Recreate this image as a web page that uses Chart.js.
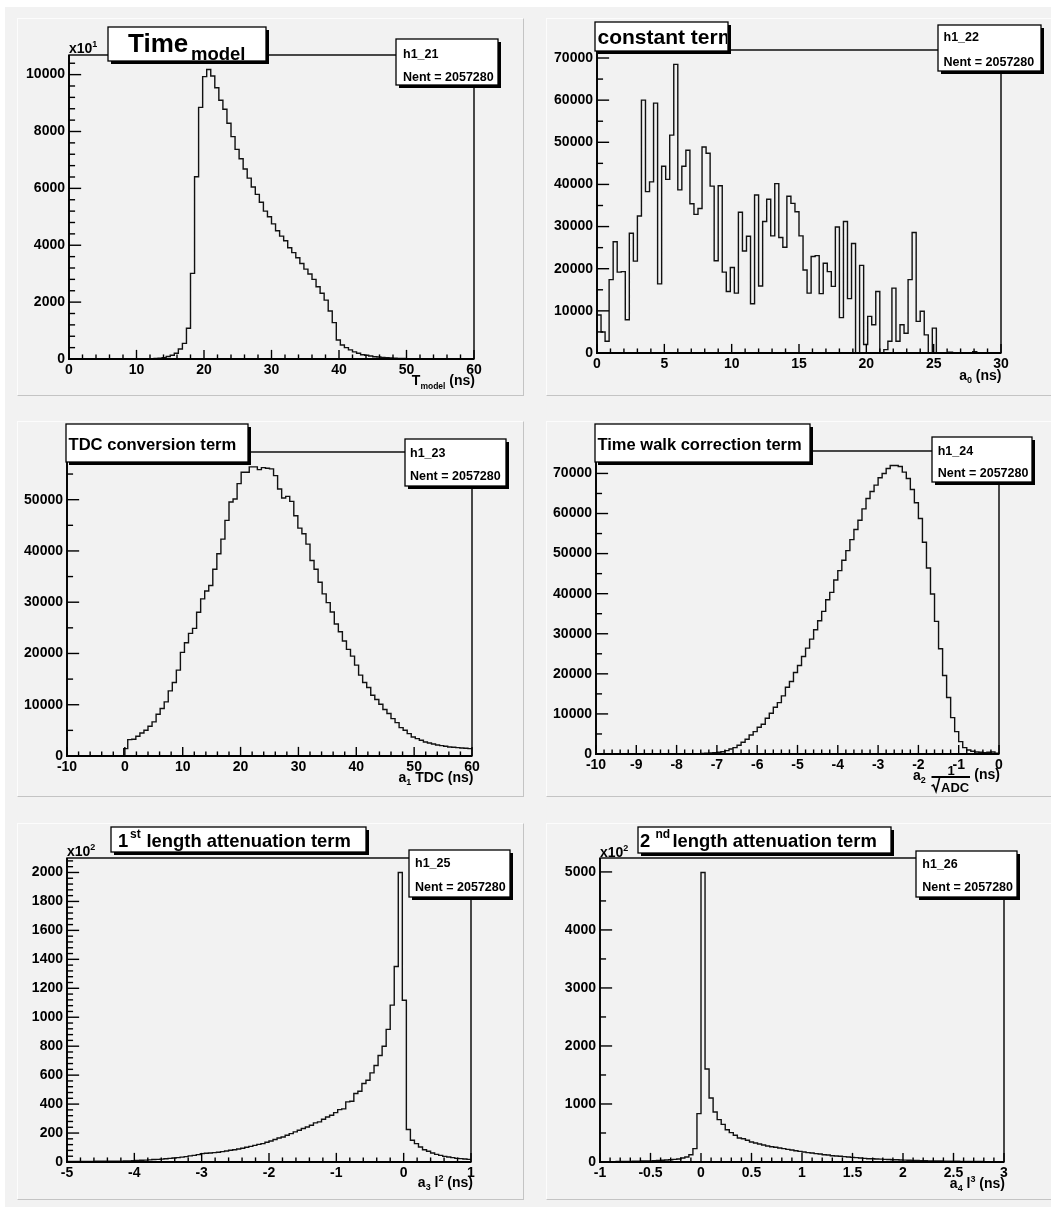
<!DOCTYPE html>
<html>
<head>
<meta charset="utf-8">
<title>Time model terms</title>
<script src="https://cdn.jsdelivr.net/npm/chart.js@4.4.1/dist/chart.umd.min.js"></script>
<style>
  html, body { margin: 0; padding: 0; background: #fff; }
  body { position: relative; width: 1051px; height: 1207px; overflow: hidden; }
  #bg { position: absolute; left: 5px; top: 7px; width: 1046px; height: 1200px; background: #f2f2f2; }
  .pad { position: absolute; box-sizing: border-box; background: #f2f2f2;
         border-top: 1px solid #fcfcfc; border-left: 1px solid #fcfcfc;
         border-right: 1px solid #c4c4c4; border-bottom: 1px solid #c4c4c4; }
  canvas { position: absolute; }
</style>
</head>
<body>
<div id="bg"></div>
<script>
const FONT = '"Liberation Sans", Arial, Helvetica, sans-serif';

// h1_21: T_model, 100 bins on [0, 60] ns (axis in units of 10 entries)
const tModelCounts = [
  0, 0, 0, 0, 0, 0, 0, 0, 0, 0,
  0, 0, 0, 0, 0, 0, 0, 0, 0, 3,
  8, 20, 30, 50, 90, 130, 200, 350, 550, 1080,
  3010, 6410, 8850, 9930, 10180, 9950, 9540, 9100, 8780, 8290,
  7820, 7370, 7040, 6680, 6360, 6050, 5790, 5510, 5200, 5000,
  4750, 4510, 4320, 4160, 3910, 3740, 3560, 3360, 3160, 2990,
  2800, 2540, 2310, 2070, 1690, 1280, 670, 490, 400, 320,
  250, 200, 150, 130, 105, 80, 70, 55, 45, 35,
  28, 22, 18, 14, 10, 8, 6, 5, 4, 3,
  3, 2, 2, 1, 1, 0, 0, 0, 0, 0
];
const tModelXTicks = [0, 10, 20, 30, 40, 50, 60];
const tModelYTicks = [0, 2000, 4000, 6000, 8000, 10000];

// h1_22: constant term a0, 100 bins on [0, 30] ns
const constCounts = [
  9000, 5000, 2800, 17400, 26400, 19200, 19300, 7900, 28400, 21800,
  32500, 60000, 38300, 40600, 59300, 16400, 44300, 41200, 51700, 68500,
  38700, 44300, 48100, 35400, 32900, 34300, 48900, 47400, 39600, 21900,
  39700, 19200, 14600, 20300, 14200, 33400, 24200, 27700, 11700, 37500,
  15900, 31200, 36500, 27800, 40200, 27400, 25100, 37200, 35500, 33500,
  27800, 19700, 14200, 22900, 23100, 14100, 21300, 19300, 15800, 29900,
  8400, 31200, 12900, 26000, 0, 20800, 2000, 8700, 6700, 14600,
  0, 800, 2800, 15400, 2800, 6700, 4700, 17400, 28600, 7500,
  9900, 4300, 0, 5900, 0, 0, 0, 200, 0, 0,
  0, 0, 0, 300, 0, 0, 0, 0, 0, 0
];
const constXTicks = [0, 5, 10, 15, 20, 25, 30];
const constYTicks = [0, 10000, 20000, 30000, 40000, 50000, 60000, 70000];

// h1_23: TDC conversion term a1*TDC, 100 bins on [-10, 60] ns
const tdcCounts = [
  0, 0, 0, 0, 0, 0, 0, 0, 0, 0,
  0, 0, 0, 0, 1430, 3190, 3260, 3850, 4500, 5020,
  5800, 6650, 8150, 9260, 10560, 12710, 14340, 16750, 20210, 22100,
  23920, 24900, 28030, 30640, 32200, 33250, 36440, 39440, 42310, 45960,
  49540, 50130, 53130, 55350, 55350, 56390, 56390, 55870, 56260, 56130,
  56000, 54690, 52090, 50330, 50650, 49670, 46870, 44460, 43350, 41330,
  38140, 36440, 33900, 31620, 29920, 28100, 25750, 24250, 22430, 20800,
  19490, 17730, 15780, 14340, 13360, 11860, 11020, 10100, 9060, 8280,
  7300, 6520, 5540, 5020, 4370, 3720, 3390, 3060, 2740, 2540,
  2350, 2150, 2020, 1890, 1760, 1700, 1630, 1560, 1500, 1430
];
const tdcXTicks = [-10, 0, 10, 20, 30, 40, 50, 60];
const tdcYTicks = [0, 10000, 20000, 30000, 40000, 50000];

// h1_24: time walk correction a2/sqrt(ADC), 100 bins on [-10, 0] ns
const walkCounts = [
  0, 0, 0, 0, 0, 0, 0, 0, 0, 0,
  0, 0, 0, 0, 0, 0, 0, 0, 0, 0,
  10, 20, 30, 50, 70, 100, 130, 170, 250, 330,
  420, 580, 830, 1250, 1580, 2170, 2920, 3670, 4750, 5580,
  6670, 7420, 8920, 10170, 11670, 12830, 14500, 16670, 18080, 20330,
  22080, 24330, 26420, 28670, 31000, 33250, 35580, 38500, 40330, 43420,
  45750, 48330, 50750, 53500, 56000, 58330, 61170, 63750, 65500, 67080,
  68920, 70000, 71250, 72000, 72000, 71750, 70330, 68750, 66000, 62670,
  58750, 52830, 46420, 39920, 33080, 26250, 19580, 14080, 9080, 5580,
  3080, 1580, 1000, 670, 500, 420, 330, 420, 500, 170
];
const walkXTicks = [-10, -9, -8, -7, -6, -5, -4, -3, -2, -1, 0];
const walkYTicks = [0, 10000, 20000, 30000, 40000, 50000, 60000, 70000];

// h1_25: 1st length attenuation a3*l^2, 100 bins on [-5, 1] ns (axis in units of 100)
const att1Counts = [
  3, 3, 3, 4, 4, 4, 4, 5, 5, 5,
  5, 6, 6, 6, 7, 8, 9, 11, 12, 13,
  15, 17, 18, 20, 22, 25, 28, 30, 34, 37,
  42, 46, 51, 58, 60, 62, 65, 67, 72, 76,
  81, 85, 90, 95, 102, 108, 115, 122, 127, 136,
  145, 155, 166, 173, 185, 196, 208, 219, 231, 242,
  254, 270, 277, 295, 311, 323, 341, 362, 367, 415,
  420, 473, 489, 542, 565, 616, 667, 736, 800, 916,
  1084, 1350, 2000, 1117, 224, 150, 127, 104, 85, 74,
  62, 53, 46, 39, 35, 30, 25, 23, 21, 18
];
const att1XTicks = [-5, -4, -3, -2, -1, 0, 1];
const att1YTicks = [0, 200, 400, 600, 800, 1000, 1200, 1400, 1600, 1800, 2000];

// h1_26: 2nd length attenuation a4*l^3, 100 bins on [-1, 3] ns (axis in units of 100)
const att2Counts = [
  5, 5, 6, 7, 8, 9, 10, 11, 12, 14,
  16, 18, 20, 22, 25, 29, 34, 40, 46, 52,
  69, 86, 126, 230, 833, 4990, 1603, 1103, 862, 730,
  649, 557, 506, 460, 414, 402, 374, 345, 328, 310,
  293, 276, 264, 253, 241, 230, 218, 207, 195, 184,
  172, 161, 155, 144, 138, 126, 121, 109, 103, 98,
  92, 86, 80, 75, 69, 63, 57, 55, 52, 50,
  46, 44, 40, 38, 35, 33, 30, 28, 26, 24,
  22, 20, 18, 17, 16, 15, 14, 13, 12, 11,
  10, 10, 9, 8, 8, 7, 7, 6, 6, 5
];
const att2XTicks = [-1, -0.5, 0, 0.5, 1, 1.5, 2, 2.5, 3];
const att2YTicks = [0, 1000, 2000, 3000, 4000, 5000];

const NENT = 'Nent = 2057280';

// pad = [left, top, width, height], frame = [left, top, right, bottom], page pixels
const panels = [
  {
    name: 'h1_21', counts: tModelCounts, lo: 0, hi: 60,
    xTicks: tModelXTicks, xMinor: 2, yTicks: tModelYTicks, yMinor: 400, yMax: 10690,
    pad: [17, 18, 507, 378], frame: [69, 55, 474, 359],
    title: { box: [108, 27, 266, 61], y: 51.5,
             segs: [{ t: 'Time', size: 26, x: 128 }, { t: 'model', size: 18.5, x: 191, dy: 8 }] },
    stats: { box: [396, 39, 498, 85], x: 403, y: [57.5, 80.5] },
    exponent: { x: 69, y: 53, p: '1' },
    xTitle: { right: 475, y: 385,
              segs: [{ t: 'T', size: 14 }, { t: 'model', size: 8.5, dy: 3.5 }, { t: ' (ns)', size: 14 }] }
  },
  {
    name: 'h1_22', counts: constCounts, lo: 0, hi: 30,
    xTicks: constXTicks, xMinor: 1, yTicks: constYTicks, yMinor: 5000, yMax: 71900,
    pad: [546, 18, 505, 378], frame: [597, 50, 1001, 353],
    title: { box: [595, 22, 728, 51], y: 43.5, segs: [{ t: 'constant term', size: 21, x: 597.5 }] },
    stats: { box: [938, 25, 1041, 71], x: 943.5, y: [41.2, 66.2] },
    xTitle: { right: 1001.5, y: 379.5,
              segs: [{ t: 'a', size: 14 }, { t: '0', size: 9, dy: 3 }, { t: ' (ns)', size: 14 }] }
  },
  {
    name: 'h1_23', counts: tdcCounts, lo: -10, hi: 60,
    xTicks: tdcXTicks, xMinor: 2, yTicks: tdcYTicks, yMinor: 5000, yMax: 59300,
    pad: [17, 421, 507, 376], frame: [67, 452, 472, 756],
    title: { box: [66, 424, 248, 462], y: 450, segs: [{ t: 'TDC conversion term', size: 16.6, x: 68.5 }] },
    stats: { box: [405, 439, 506, 486], x: 410, y: [457.2, 479.5] },
    xTitle: { right: 473.5, y: 781.5,
              segs: [{ t: 'a', size: 14 }, { t: '1', size: 9, dy: 3 }, { t: ' TDC (ns)', size: 14 }] }
  },
  {
    name: 'h1_24', counts: walkCounts, lo: -10, hi: 0,
    xTicks: walkXTicks, xMinor: 0.2, yTicks: walkYTicks, yMinor: 5000, yMax: 75600,
    pad: [546, 421, 505, 376], frame: [596, 451, 999, 754],
    title: { box: [595, 424, 810, 462], y: 450, segs: [{ t: 'Time walk correction term', size: 16.5, x: 597.5 }] },
    stats: { box: [932, 437, 1032, 482], x: 937.7, y: [454.5, 476.8] },
    xTitle: { custom: drawWalkTitle }
  },
  {
    name: 'h1_25', counts: att1Counts, lo: -5, hi: 1,
    xTicks: att1XTicks, xMinor: 0.2, yTicks: att1YTicks, yMinor: 40, yMax: 2100,
    pad: [17, 823, 507, 377], frame: [67, 858, 471, 1162],
    title: { box: [111, 827, 366, 852], y: 846.5,
             segs: [{ t: '1', size: 18.4, x: 118 }, { t: 'st', size: 12, x: 130, dy: -9 },
                    { t: 'length attenuation term', size: 18.4, x: 146.5 }] },
    stats: { box: [409, 850, 510, 897], x: 415, y: [867.2, 890.5] },
    exponent: { x: 67, y: 856, p: '2' },
    xTitle: { right: 473, y: 1187,
              segs: [{ t: 'a', size: 14 }, { t: '3', size: 9, dy: 3 }, { t: ' l', size: 14 },
                     { t: '2', size: 9, dy: -6 }, { t: ' (ns)', size: 14 }] }
  },
  {
    name: 'h1_26', counts: att2Counts, lo: -1, hi: 3,
    xTicks: att2XTicks, xMinor: 0.1, yTicks: att2YTicks, yMinor: 500, yMax: 5240,
    pad: [546, 823, 505, 377], frame: [600, 858, 1004, 1162],
    title: { box: [638, 827, 891, 853], y: 846.5,
             segs: [{ t: '2', size: 18.4, x: 640 }, { t: 'nd', size: 12, x: 655.5, dy: -9 },
                    { t: 'length attenuation term', size: 18.4, x: 672.5 }] },
    stats: { box: [916, 851, 1017, 897], x: 922.3, y: [867.8, 891.2] },
    exponent: { x: 600, y: 856.5, p: '2' },
    xTitle: { right: 1005, y: 1187.5,
              segs: [{ t: 'a', size: 14 }, { t: '4', size: 9, dy: 3 }, { t: ' l', size: 14 },
                     { t: '3', size: 9, dy: -6 }, { t: ' (ns)', size: 14 }] }
  }
];

function font(size) {
  return 'bold ' + size + 'px ' + FONT;
}

// draws a run of text pieces (sub/superscripts via dy), optionally right aligned
function drawSegs(ctx, segs, x, y, right) {
  if (right !== undefined) {
    let w = 0;
    segs.forEach(s => { ctx.font = font(s.size); w += ctx.measureText(s.t).width; });
    x = right - w;
  }
  segs.forEach(s => {
    ctx.font = font(s.size);
    const sx = s.x !== undefined ? s.x : x;
    ctx.fillText(s.t, sx, y + (s.dy || 0));
    x = sx + ctx.measureText(s.t).width;
  });
}

function shadowBox(ctx, b) {
  const [x0, y0, x1, y1] = b;
  ctx.fillStyle = '#000';
  ctx.fillRect(x0 + 3, y0 + 3, x1 - x0, y1 - y0);
  ctx.fillStyle = '#fff';
  ctx.fillRect(x0, y0, x1 - x0, y1 - y0);
  ctx.strokeStyle = '#000';
  ctx.lineWidth = 1.3;
  ctx.strokeRect(x0, y0, x1 - x0, y1 - y0);
}

function line(ctx, x0, y0, x1, y1) {
  ctx.beginPath();
  ctx.moveTo(x0, y0);
  ctx.lineTo(x1, y1);
  ctx.stroke();
}

// a2 * 1/sqrt(ADC) (ns)
function drawWalkTitle(ctx) {
  ctx.fillStyle = '#000';
  ctx.strokeStyle = '#000';
  drawSegs(ctx, [{ t: 'a', size: 14, x: 913 }, { t: '2', size: 9, dy: 3 }], 0, 780);
  ctx.lineWidth = 1.8;
  line(ctx, 931.5, 777, 970, 777);
  ctx.font = font(13);
  ctx.textAlign = 'center';
  ctx.fillText('1', 951, 775);
  ctx.textAlign = 'left';
  ctx.lineWidth = 1.6;
  ctx.beginPath();
  ctx.moveTo(931.5, 786);
  ctx.lineTo(933.5, 785);
  ctx.lineTo(936, 791.5);
  ctx.lineTo(939.5, 778);
  ctx.stroke();
  ctx.font = font(13);
  ctx.fillText('ADC', 941, 791.5);
  ctx.font = font(14);
  ctx.textAlign = 'right';
  ctx.fillText('(ns)', 1000, 779);
  ctx.textAlign = 'left';
}

function tickList(lo, hi, step, majors) {
  const out = [];
  const n = Math.floor((hi - lo) / step + 1e-6);
  for (let k = 0; k <= n; k++) {
    const v = lo + k * step;
    out.push({ v: v, major: majors.some(m => Math.abs(m - v) < step * 0.01) });
  }
  return out;
}

// ROOT-like frame: inward ticks, title and stats boxes, axis titles
function rootDecor(p) {
  return {
    id: 'rootDecor',
    afterDraw(chart) {
      const { ctx, chartArea: a, scales: { x, y } } = chart;
      ctx.save();
      ctx.strokeStyle = '#000';
      ctx.fillStyle = '#000';

      ctx.lineWidth = 1.4;
      ctx.strokeRect(a.left, a.top, a.right - a.left, a.bottom - a.top);
      ctx.lineWidth = 1.8;
      line(ctx, a.left, a.top, a.left, a.bottom + 0.9);
      line(ctx, a.left - 0.9, a.bottom, a.right, a.bottom);

      const xLen = (a.bottom - a.top) * 0.03;
      const yLen = (a.right - a.left) * 0.03;
      ctx.lineWidth = 1.4;
      tickList(p.lo, p.hi, p.xMinor, p.xTicks).forEach(t => {
        const px = x.getPixelForValue(t.v);
        line(ctx, px, a.bottom, px, a.bottom - (t.major ? xLen : xLen / 2));
      });
      tickList(0, p.yMax, p.yMinor, p.yTicks).forEach(t => {
        const py = y.getPixelForValue(t.v);
        line(ctx, a.left, py, a.left + (t.major ? yLen : yLen / 2), py);
      });

      // everything below is placed in page coordinates
      ctx.translate(-p.pad[0], -p.pad[1]);
      ctx.textBaseline = 'alphabetic';

      if (p.exponent) {
        drawSegs(ctx, [{ t: 'x10', size: 14, x: p.exponent.x }, { t: p.exponent.p, size: 9, dy: -6 }], 0, p.exponent.y);
      }

      if (p.xTitle.custom) {
        p.xTitle.custom(ctx);
      } else {
        drawSegs(ctx, p.xTitle.segs, 0, p.xTitle.y, p.xTitle.right);
      }

      const tb = p.title.box;
      shadowBox(ctx, tb);
      ctx.save();
      ctx.beginPath();
      ctx.rect(tb[0] + 1, tb[1] + 1, tb[2] - tb[0] - 2, tb[3] - tb[1] - 2);
      ctx.clip();
      ctx.fillStyle = '#000';
      drawSegs(ctx, p.title.segs, 0, p.title.y);
      ctx.restore();

      const sb = p.stats.box;
      shadowBox(ctx, sb);
      ctx.save();
      ctx.beginPath();
      ctx.rect(sb[0] + 1, sb[1] + 1, sb[2] - sb[0] - 2, sb[3] - sb[1] - 2);
      ctx.clip();
      ctx.fillStyle = '#000';
      ctx.font = font(12.5);
      ctx.fillText(p.name, p.stats.x, p.stats.y[0]);
      ctx.fillText(NENT, p.stats.x, p.stats.y[1]);
      ctx.restore();

      ctx.restore();
    }
  };
}

panels.forEach(p => {
  const [px, py, pw, ph] = p.pad;
  const [fl, ft, fr, fb] = p.frame;

  const pad = document.createElement('div');
  pad.className = 'pad';
  pad.style.left = px + 'px';
  pad.style.top = py + 'px';
  pad.style.width = (px > 500 ? 520 : pw) + 'px';
  pad.style.height = ph + 'px';
  document.body.appendChild(pad);

  const cv = document.createElement('canvas');
  cv.width = pw;
  cv.height = ph;
  cv.style.left = px + 'px';
  cv.style.top = py + 'px';
  document.body.appendChild(cv);

  const w = (p.hi - p.lo) / p.counts.length;
  const points = p.counts.map((c, i) => ({ x: p.lo + i * w, y: c }));
  points.push({ x: p.hi, y: p.counts[p.counts.length - 1] });

  const tickFont = { family: FONT, size: 14, weight: 'bold' };

  new Chart(cv, {
    type: 'line',
    data: {
      datasets: [{
        data: points,
        stepped: true,
        borderColor: '#111',
        borderWidth: 1.4,
        pointRadius: 0,
        fill: false
      }]
    },
    options: {
      responsive: false,
      animation: false,
      devicePixelRatio: 1,
      layout: { padding: { left: 0, top: ft - py, right: px + pw - fr, bottom: 0 } },
      plugins: { legend: { display: false }, tooltip: { enabled: false } },
      scales: {
        x: {
          type: 'linear', min: p.lo, max: p.hi,
          grid: { display: false, drawTicks: false },
          border: { display: false },
          afterBuildTicks: s => { s.ticks = p.xTicks.map(v => ({ value: v })); },
          afterFit: s => { s.height = py + ph - fb; },
          ticks: { autoSkip: false, maxRotation: 0, padding: 3, color: '#000', font: tickFont,
                   callback: v => String(v) }
        },
        y: {
          type: 'linear', min: 0, max: p.yMax,
          grid: { display: false, drawTicks: false },
          border: { display: false },
          afterBuildTicks: s => { s.ticks = p.yTicks.map(v => ({ value: v })); },
          afterFit: s => { s.width = fl - px; },
          ticks: { autoSkip: false, padding: 4, color: '#000', font: tickFont,
                   callback: v => String(v) }
        }
      }
    },
    plugins: [rootDecor(p)]
  });
});
</script>
</body>
</html>
